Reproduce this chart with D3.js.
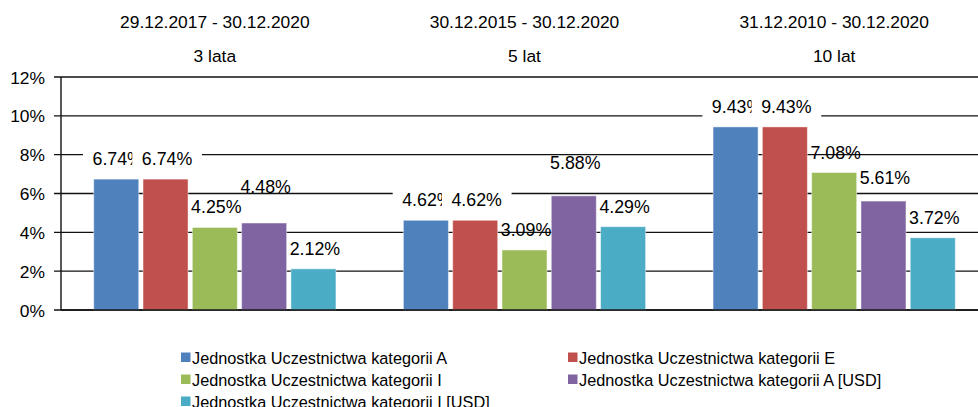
<!DOCTYPE html>
<html>
<head>
<meta charset="utf-8">
<script src="https://cdn.jsdelivr.net/npm/d3@7/dist/d3.min.js"></script>
<style>
  html, body { margin: 0; padding: 0; background: #fff; }
  svg { display: block; font-family: "Liberation Sans", Arial, sans-serif; }
</style>
</head>
<body>
<svg id="chart" width="978" height="407"></svg>
<script>
// ---------- DATA ----------
const categories = ["3 lata", "5 lat", "10 lat"];
const periods = ["29.12.2017 - 30.12.2020", "30.12.2015 - 30.12.2020", "31.12.2010 - 30.12.2020"];
const seriesNames = [
  "Jednostka Uczestnictwa kategorii A",
  "Jednostka Uczestnictwa kategorii E",
  "Jednostka Uczestnictwa kategorii I",
  "Jednostka Uczestnictwa kategorii A [USD]",
  "Jednostka Uczestnictwa kategorii I [USD]"
];
const valuesA    = [6.74, 4.62, 9.43];
const valuesE    = [6.74, 4.62, 9.43];
const valuesI    = [4.25, 3.09, 7.08];
const valuesAUSD = [4.48, 5.88, 5.61];
const valuesIUSD = [2.12, 4.29, 3.72];
const yTicks = [0, 2, 4, 6, 8, 10, 12];

// ---------- STYLE / LAYOUT ----------
const colors = ["#4F81BD", "#C0504D", "#9BBB59", "#8064A2", "#4BACC6"];
const labelBoxed = [true, true, false, false, false];
const labelExtraLift = [[0,0,0],[0,0,0],[0,0,0],[16,13,3],[0,0,0]];
const seriesValues = [valuesA, valuesE, valuesI, valuesAUSD, valuesIUSD];

const svg = d3.select("#chart");
const plotLeft = 61, plotRight = 989;
const x0 = d3.scaleBand().domain(categories).range([60, 989]).paddingInner(0).paddingOuter(0);
const x1 = d3.scaleBand().domain(d3.range(seriesNames.length)).range([0, x0.bandwidth()])
  .paddingInner(0.087).paddingOuter(0.684);
const y = d3.scaleLinear().domain([0, 12]).range([310, 77]);

// gridlines + ticks
const grid = svg.append("g");
yTicks.forEach(t => {
  grid.append("line")
    .attr("x1", 54).attr("x2", plotRight)
    .attr("y1", y(t)).attr("y2", y(t))
    .attr("stroke", "#111").attr("stroke-width", t === 0 ? 1.6 : 1.3);
});
// y axis line
svg.append("line").attr("x1", plotLeft).attr("x2", plotLeft)
  .attr("y1", y(12)).attr("y2", y(0)).attr("stroke", "#111").attr("stroke-width", 1.4);

// y tick labels
const yAxis = d3.axisLeft(y).tickValues(yTicks).tickFormat(d => d + "%").tickSize(0).tickPadding(0);
const yg = svg.append("g").attr("transform", "translate(45,0)").call(yAxis);
yg.select(".domain").remove();
yg.selectAll("text").attr("font-size", "17.4px").attr("fill", "#000")
  .attr("font-family", "'Liberation Sans', Arial, sans-serif").attr("dy", "0.35em");

// headers
categories.forEach((c, i) => {
  const cx = x0(c) + x0.bandwidth() / 2;
  svg.append("text").attr("x", cx).attr("y", 28).attr("text-anchor", "middle")
    .attr("font-size", "17.4px").attr("fill", "#000").text(periods[i]);
  svg.append("text").attr("x", cx).attr("y", 62).attr("text-anchor", "middle")
    .attr("font-size", "17.4px").attr("fill", "#000").text(c);
});

// bars
seriesValues.forEach((vals, s) => {
  svg.append("g").selectAll("rect").data(vals).join("rect")
    .attr("x", (d, i) => x0(categories[i]) + x1(s))
    .attr("y", d => y(d))
    .attr("width", x1.bandwidth())
    .attr("height", d => y(0) - y(d))
    .attr("fill", colors[s])
    .attr("stroke", "rgba(255,255,255,0.45)").attr("stroke-width", 1);
});
// redraw baseline over bars
svg.append("line").attr("x1", plotLeft).attr("x2", plotRight)
  .attr("y1", y(0)).attr("y2", y(0)).attr("stroke", "#111").attr("stroke-width", 1.6);

// data labels
seriesValues.forEach((vals, s) => {
  vals.forEach((v, i) => {
    const cx = x0(categories[i]) + x1(s) + x1.bandwidth() / 2 + 1.5;
    const base = y(v) - 14 - labelExtraLift[s][i];
    const g = svg.append("g");
    const t = g.append("text").attr("x", cx).attr("y", base).attr("text-anchor", "middle")
      .attr("font-size", "17.8px").attr("fill", "#000").text(v.toFixed(2) + "%");
    if (labelBoxed[s]) {
      const bb = t.node().getBBox();
      g.insert("rect", "text")
        .attr("x", bb.x - 9.5).attr("width", bb.width + 19)
        .attr("y", base - 17).attr("height", 23)
        .attr("fill", "#fff");
    }
  });
});

// legend
const legendPos = [[181, 364], [568, 364], [181, 386], [568, 386], [181, 408]];
seriesNames.forEach((n, s) => {
  const [lx, ly] = legendPos[s];
  svg.append("rect").attr("x", lx).attr("y", ly - 11.5).attr("width", 9.5).attr("height", 9.5)
    .attr("fill", colors[s]);
  svg.append("text").attr("x", lx + 11).attr("y", ly).attr("font-size", "16.3px")
    .attr("fill", "#000").text(n);
});
</script>
</body>
</html>
